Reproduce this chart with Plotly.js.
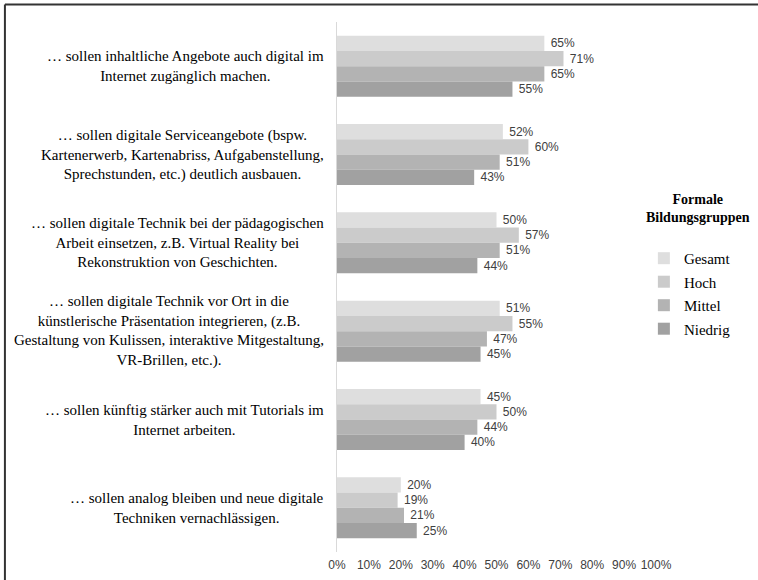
<!DOCTYPE html>
<html>
<head>
<meta charset="utf-8">
<script src="https://cdn.plot.ly/plotly-3.0.1.min.js"></script>
<style>
html,body{margin:0;padding:0;background:#fff;}
#chart{width:758px;height:580px;}
</style>
</head>
<body>
<div id="chart"></div>
<script>
const categories = [
  "… sollen inhaltliche Angebote auch digital im<br>Internet zugänglich machen.",
  "… sollen digitale Serviceangebote (bspw.<br>Kartenerwerb, Kartenabriss, Aufgabenstellung,<br>Sprechstunden, etc.) deutlich ausbauen.",
  "… sollen digitale Technik bei der pädagogischen<br>Arbeit einsetzen, z.B. Virtual Reality bei<br>Rekonstruktion von Geschichten.",
  "… sollen digitale Technik vor Ort in die<br>künstlerische Präsentation integrieren, (z.B.<br>Gestaltung von Kulissen, interaktive Mitgestaltung,<br>VR-Brillen, etc.).",
  "… sollen künftig stärker auch mit Tutorials im<br>Internet arbeiten.",
  "… sollen analog bleiben und neue digitale<br>Techniken vernachlässigen."
];
const seriesNames = ["Gesamt", "Hoch", "Mittel", "Niedrig"];
const gesamt  = [65, 52, 50, 51, 45, 20];
const hoch    = [71, 60, 57, 55, 50, 19];
const mittel  = [65, 51, 51, 47, 44, 21];
const niedrig = [55, 43, 44, 45, 40, 25];
const seriesValues = [gesamt, hoch, mittel, niedrig];
const seriesColors = ["#dedede", "#cbcbcb", "#b3b3b3", "#a1a1a1"];
const xTicks = [0,10,20,30,40,50,60,70,80,90,100];
const legendTitle = "<b>Formale<br>Bildungsgruppen</b>";

const catIds = categories.map((c, i) => "c" + i);
const serif = "Liberation Serif, Times New Roman, serif";
const sans = "Liberation Sans, Arial, sans-serif";

const traces = seriesNames.map((name, k) => ({
  type: "bar",
  orientation: "h",
  name: name,
  legendgroup: "g" + k,
  y: catIds,
  x: seriesValues[k],
  text: seriesValues[k].map(v => "\u00a0" + v + "%"),
  textposition: "outside",
  constraintext: "none",
  cliponaxis: false,
  textfont: {family: sans, size: 12, color: "#404040"},
  marker: {color: seriesColors[k], line: {width: 0}},
  hoverinfo: "none"
}));

const annotations = categories.map((c, i) => ({
  xref: "paper", yref: "y",
  x: -0.035, y: catIds[i],
  xanchor: "right", yanchor: "middle",
  align: "center",
  text: c,
  showarrow: false,
  font: {family: serif, size: 15, color: "#000"}
}));
annotations.push({
  xref: "paper", yref: "paper",
  x: 1.132, y: 0.649,
  xanchor: "center", yanchor: "middle",
  align: "center",
  text: legendTitle,
  showarrow: false,
  font: {family: serif, size: 14, color: "#000"}
});

const layout = {
  width: 758, height: 580,
  margin: {l: 337, r: 102, t: 22, b: 28, autoexpand: false},
  paper_bgcolor: "#fff",
  plot_bgcolor: "#fff",
  barmode: "group",
  bargap: 0.31,
  bargroupgap: 0,
  showlegend: true,
  legend: {
    x: 0.962, xanchor: "left",
    y: 0.585, yanchor: "top",
    traceorder: "grouped",
    tracegroupgap: 1,
    font: {family: serif, size: 15, color: "#000"},
    itemwidth: 30,
    bgcolor: "rgba(0,0,0,0)"
  },
  xaxis: {
    range: [0, 100],
    tickvals: xTicks,
    ticktext: xTicks.map(v => v + "%"),
    tickangle: 0,
    ticklabelstandoff: 4,
    showgrid: false,
    zeroline: false,
    showline: false,
    ticks: "",
    tickfont: {family: sans, size: 12, color: "#404040"},
    fixedrange: true
  },
  yaxis: {
    type: "category",
    autorange: "reversed",
    showticklabels: false,
    showgrid: false,
    zeroline: false,
    showline: true,
    linecolor: "#d9d9d9",
    linewidth: 1,
    ticks: "",
    fixedrange: true
  },
  annotations: annotations,
  shapes: [
    {type: "line", xref: "paper", yref: "paper", x0: -1.041, x1: 1.32, y0: 1.033, y1: 1.033,
     line: {color: "#333", width: 2}},
    {type: "line", xref: "paper", yref: "paper", x0: -1.041, x1: -1.041, y0: 1.033, y1: -0.06,
     line: {color: "#333", width: 2}}
  ]
};

Plotly.newPlot("chart", traces, layout, {displayModeBar: false, staticPlot: true});
</script>
</body>
</html>
